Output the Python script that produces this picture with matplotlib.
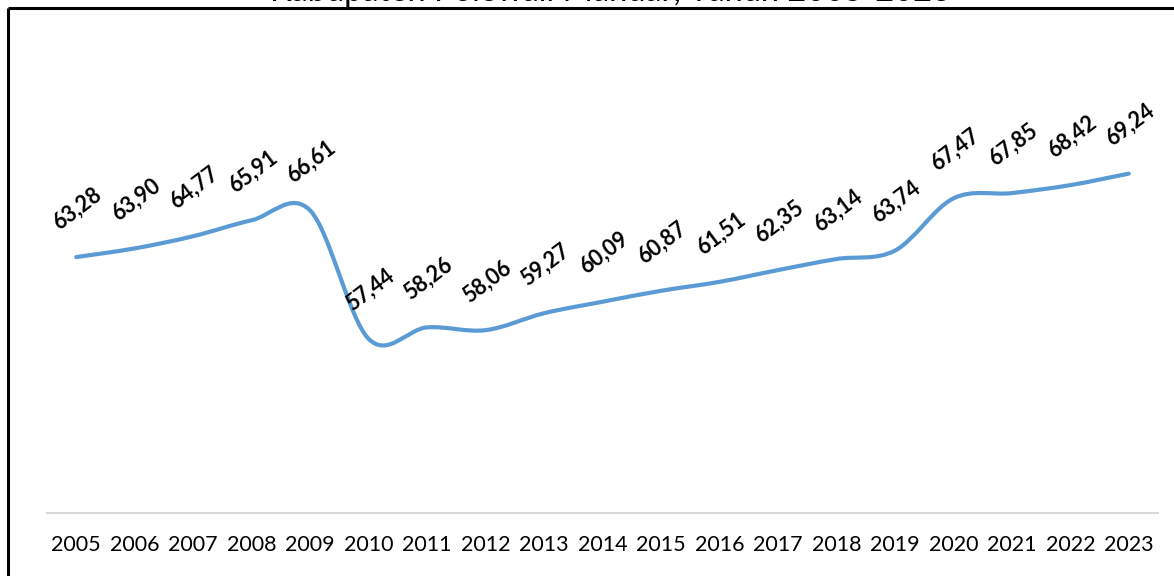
import matplotlib
matplotlib.use("Agg")
import matplotlib.pyplot as plt
from matplotlib.path import Path
from matplotlib.patches import PathPatch
from matplotlib.lines import Line2D
import numpy as np

years = ["2005", "2006", "2007", "2008", "2009", "2010", "2011", "2012", "2013", "2014",
         "2015", "2016", "2017", "2018", "2019", "2020", "2021", "2022", "2023"]
values = [63.28, 63.90, 64.77, 65.91, 66.61, 57.44, 58.26, 58.06, 59.27, 60.09,
          60.87, 61.51, 62.35, 63.14, 63.74, 67.47, 67.85, 68.42, 69.24]
title = "Kabupaten Polewali Mandar, Tahun 2005-2023"

plt.rcParams['font.family'] = ['Lato', 'DejaVu Sans']

W, H = 1174, 576
fig = plt.figure(figsize=(W / 100, H / 100), dpi=100)
ax = fig.add_axes([47 / W, 63 / H, 1111 / W, 420 / H])

x = np.arange(len(values))
y = np.array(values)

# smoothed line (Catmull-Rom bezier, like spreadsheet smoothed lines)
pts = np.column_stack([x, y])
verts = [pts[0]]
codes = [Path.MOVETO]
n = len(pts)
for i in range(n - 1):
    p0 = pts[i - 1] if i > 0 else pts[i]
    p1 = pts[i]
    p2 = pts[i + 1]
    p3 = pts[i + 2] if i + 2 < n else pts[i + 1]
    c1 = p1 + (p2 - p0) / 6.0
    c2 = p2 - (p3 - p1) / 6.0
    verts += [c1, c2, p2]
    codes += [Path.CURVE4] * 3
patch = PathPatch(Path(verts, codes), facecolor='none', edgecolor='#5B9BD5',
                  linewidth=3, capstyle='round', joinstyle='round')
ax.add_patch(patch)

for xi, v in zip(x, values):
    ax.annotate(f"{v:.2f}".replace('.', ','), (xi, v), xytext=(1, 35),
                textcoords='offset points', rotation=37, ha='center', va='center',
                fontsize=15.5, fontweight='bold', color='black')

ax.set_xlim(-0.5, len(values) - 0.5)
ax.set_ylim(45, 75)
ax.set_xticks(x)
ax.set_xticklabels(years, fontsize=15.5, color='black')
ax.tick_params(axis='x', length=0, pad=16)
ax.set_yticks([])
for s in ['top', 'right', 'left']:
    ax.spines[s].set_visible(False)
ax.spines['bottom'].set_color('#d9d9d9')
ax.spines['bottom'].set_linewidth(1.5)
ax.patch.set_alpha(0)

# title (mostly clipped at the top edge, as in the reference)
fig.text(610 / W, 1 - 1 / H, title, ha='center', va='baseline', fontsize=23.5, color='black')

# frame lines (left and top)
fig.add_artist(Line2D([8 / W, 8 / W], [0, 1 - 8 / H], transform=fig.transFigure,
                      color='black', linewidth=2.2, solid_capstyle='butt'))
fig.add_artist(Line2D([8 / W, 1], [1 - 8 / H, 1 - 8 / H], transform=fig.transFigure,
                      color='black', linewidth=2.2, solid_capstyle='butt'))

fig.savefig("out.png", dpi=100)
